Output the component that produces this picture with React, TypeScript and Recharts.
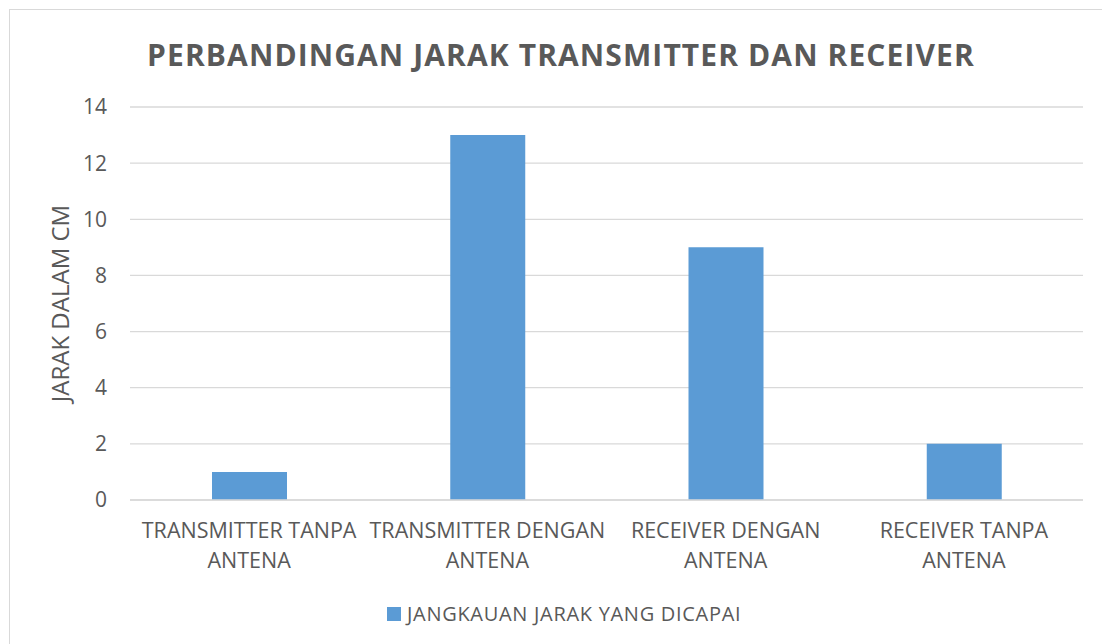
import React from 'react';
import { BarChart, Bar, XAxis, YAxis, CartesianGrid } from 'recharts';

const categories = [
  'TRANSMITTER TANPA ANTENA',
  'TRANSMITTER DENGAN ANTENA',
  'RECEIVER DENGAN ANTENA',
  'RECEIVER TANPA ANTENA',
];
const jangkauan = [1, 13, 9, 2];
const yTicks = [0, 2, 4, 6, 8, 10, 12, 14];

const seriesName = 'JANGKAUAN JARAK YANG DICAPAI';
const title = 'PERBANDINGAN JARAK TRANSMITTER DAN RECEIVER';

const data = categories.map((name, i) => ({ name, value: jangkauan[i] }));

const FONT = '"Open Sans", sans-serif';
const TEXT = '#595959';
const BLUE = '#5b9bd5';
const GRID = '#d9d9d9';

// split label: last word on second line
const CategoryTick = ({ x, y, payload }: any) => {
  const words = String(payload.value).split(' ');
  const last = words.pop();
  return (
    <text x={x} y={y} textAnchor="middle" fill={TEXT} fontSize={21.5} fontFamily={FONT}>
      <tspan x={x} dy={36}>{words.join(' ')}</tspan>
      <tspan x={x} dy={30}>{last}</tspan>
    </text>
  );
};

const App: React.FC = () => {
  return (
    <div style={{ position: 'absolute', left: 0, top: 0, width: 1102, height: 644, overflow: 'hidden', background: '#fff' }}>
      <div style={{ position: 'absolute', left: 9, top: 9, width: 1200, height: 800, border: `1px solid ${GRID}` }} />
      <div
        style={{
          position: 'absolute', left: 0, top: 34, width: 1122, textAlign: 'center',
          fontFamily: FONT, fontWeight: 700, fontSize: 30, letterSpacing: 1.1, color: TEXT, whiteSpace: 'nowrap',
        }}
      >
        {title}
      </div>
      <div style={{ position: 'absolute', left: 0, top: 0 }}>
        <BarChart width={1102} height={644} data={data} margin={{ top: 107, right: 19, bottom: 64, left: 20 }}>
          <CartesianGrid vertical={false} stroke={GRID} strokeWidth={1.3} />
          <XAxis
            dataKey="name"
            height={80}
            tickLine={false}
            tickSize={0}
            axisLine={{ stroke: GRID, strokeWidth: 1.3 }}
            tick={<CategoryTick />}
            interval={0}
          />
          <YAxis
            width={110}
            domain={[0, 14]}
            ticks={yTicks}
            tickLine={false}
            tickSize={0}
            tickMargin={23}
            axisLine={false}
            tick={{ fill: TEXT, fontSize: 21, fontFamily: FONT }}
            label={{
              value: 'JARAK DALAM CM',
              angle: -90,
              position: 'insideLeft',
              offset: 40,
              fill: TEXT,
              fontSize: 24,
              fontFamily: FONT,
              style: { textAnchor: 'middle' },
            }}
          />
          <Bar dataKey="value" name={seriesName} fill={BLUE} barSize={75} isAnimationActive={false} />
        </BarChart>
      </div>
      <div
        style={{
          position: 'absolute', left: 387, top: 600, display: 'flex', alignItems: 'center',
          fontFamily: FONT, fontSize: 20, letterSpacing: 0.7, color: TEXT, whiteSpace: 'nowrap',
        }}
      >
        <span style={{ display: 'inline-block', width: 14, height: 14, background: BLUE, marginRight: 6 }} />
        {seriesName}
      </div>
    </div>
  );
};

export default App;
